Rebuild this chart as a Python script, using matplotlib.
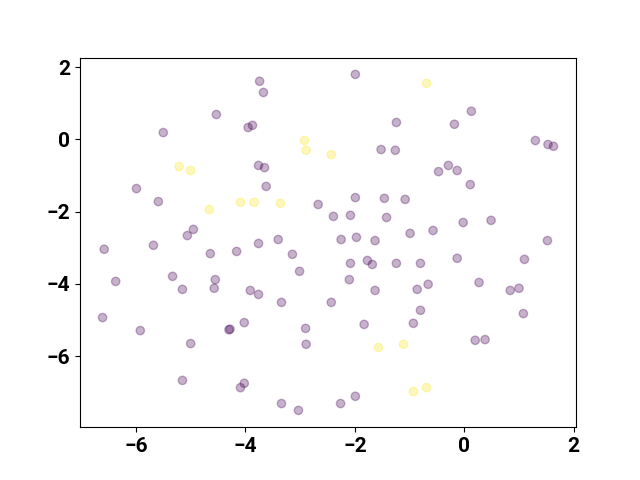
import matplotlib
matplotlib.use('Agg')
import matplotlib.pyplot as plt
import numpy as np

plt.rcParams['font.family'] = ['Roboto', 'DejaVu Sans']

# purple group (label 0)
x0 = [-1.99, -3.74, -3.67, -4.53, 0.13, -1.24, -5.50, -3.87, -3.95, -0.18,
      1.30, 1.53, 1.63, -1.52, -1.26, -3.76, -3.65, -0.29, -0.13, -0.47,
      -3.62, -5.99, 0.11, -5.59, -1.99, -1.46, -1.08, -2.67, -2.39, -2.08,
      -1.42, 0.49, -0.02, -0.57, -0.99, -4.95, -5.06, 1.52, -6.58, -5.68,
      -4.64, -4.16, -6.37, -5.33, -5.15, -4.55, -4.57, -3.91, -6.61, -5.92,
      -4.30, -4.28, -4.02, -5.00, -5.15, -4.09, -4.02, -3.76, -3.40, -2.25,
      -1.97, -1.63, -3.14, -3.01, -2.08, -1.77, -1.68, -1.24, -2.10, -3.76,
      -3.34, -2.43, -1.63, -2.90, -1.83, -2.89, -3.34, -3.03, -2.26, -1.99,
      -0.80, -0.13, 1.10, -0.86, -0.66, 0.27, 0.84, 1.00, -0.80, -0.93,
      1.08, 0.20, 0.38]
y0 = [1.80, 1.61, 1.30, 0.69, 0.78, 0.47, 0.19, 0.39, 0.33, 0.42,
      -0.03, -0.14, -0.19, -0.28, -0.30, -0.72, -0.78, -0.72, -0.86, -0.89,
      -1.30, -1.36, -1.25, -1.72, -1.61, -1.63, -1.66, -1.80, -2.13, -2.10,
      -2.16, -2.24, -2.30, -2.52, -2.60, -2.49, -2.66, -2.80, -3.04, -2.93,
      -3.16, -3.10, -3.93, -3.79, -4.15, -3.88, -4.12, -4.18, -4.93, -5.29,
      -5.27, -5.25, -5.07, -5.65, -6.67, -6.87, -6.75, -2.88, -2.77, -2.77,
      -2.71, -2.80, -3.18, -3.65, -3.43, -3.35, -3.46, -3.43, -3.88, -4.29,
      -4.51, -4.51, -4.18, -5.23, -5.12, -5.67, -7.31, -7.50, -7.31, -7.11,
      -3.43, -3.29, -3.32, -4.15, -4.01, -3.96, -4.18, -4.12, -4.73, -5.09,
      -4.82, -5.56, -5.54]

# yellow group (label 1)
x1 = [-5.21, -5.00, -4.66, -4.09, -3.84, -3.36, -2.92, -2.89, -2.43, -0.69,
      -1.57, -1.11, -0.93, -0.69]
y1 = [-0.75, -0.86, -1.94, -1.74, -1.74, -1.77, -0.03, -0.30, -0.42, 1.55,
      -5.76, -5.67, -6.98, -6.87]

xs = np.array(x0 + x1)
ys = np.array(y0 + y1)
labels = np.array([0] * len(x0) + [1] * len(x1))

fig, ax = plt.subplots(figsize=(6.4, 4.8), dpi=100)
ax.scatter(xs, ys, c=labels, cmap='viridis', alpha=0.3)
ax.set_xticks([-6, -4, -2, 0, 2])
for lab in ax.get_xticklabels() + ax.get_yticklabels():
    lab.set_fontsize(15)
    lab.set_fontweight('bold')

fig.savefig('out.png')
